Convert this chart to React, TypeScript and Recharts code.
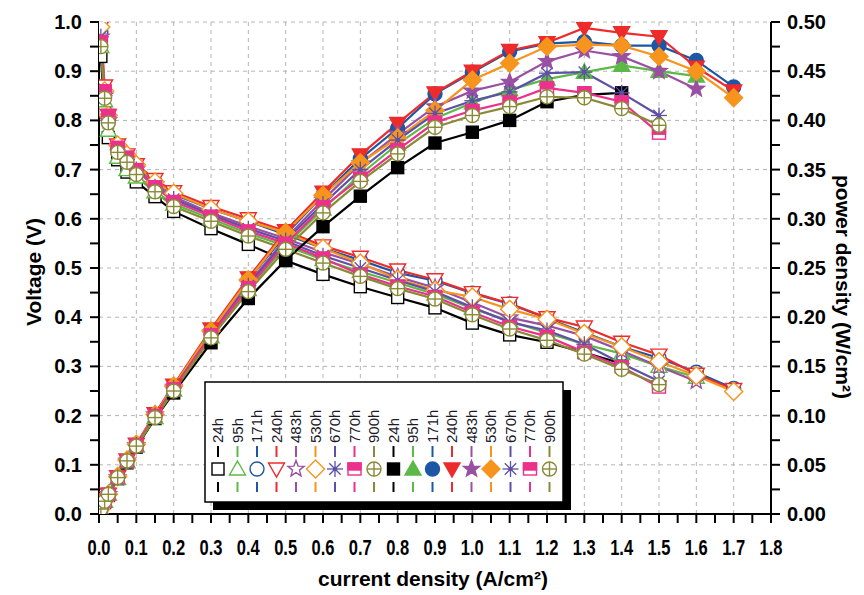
import React from "react";
import { ComposedChart, Line, XAxis, YAxis, CartesianGrid } from "recharts";

const FONT = "'Liberation Sans', Arial, sans-serif";

// current density (A/cm2) at which every point was measured
const currentDensity = [
  0.005, 0.015, 0.025, 0.05, 0.075, 0.1, 0.15, 0.2, 0.3, 0.4, 0.5, 0.6, 0.7,
  0.8, 0.9, 1.0, 1.1, 1.2, 1.3, 1.4, 1.5, 1.6, 1.7,
];

const hours = ["24h", "95h", "171h", "240h", "483h", "530h", "670h", "770h", "900h"];
const colors = [
  "#000000",
  "#5cb947",
  "#1d56a5",
  "#ee2b2b",
  "#9a50a2",
  "#f7941d",
  "#5d50a6",
  "#ec318c",
  "#8a8a36",
];
const shapes = [
  "square",
  "triangle",
  "circle",
  "down",
  "star",
  "diamond",
  "asterisk",
  "halfsquare",
  "circleplus",
];

// cell voltage (V)
const voltage24h = [0.93, 0.82, 0.765, 0.72, 0.695, 0.675, 0.645, 0.615, 0.58, 0.548, 0.515, 0.487, 0.462, 0.44, 0.419, 0.388, 0.364, 0.349, 0.328, 0.306];
const voltage95h = [0.95, 0.84, 0.78, 0.725, 0.7, 0.685, 0.655, 0.63, 0.6, 0.57, 0.545, 0.517, 0.493, 0.47, 0.447, 0.418, 0.392, 0.368, 0.345, 0.326, 0.3, 0.278];
const voltage171h = [0.98, 0.86, 0.805, 0.745, 0.725, 0.705, 0.675, 0.65, 0.62, 0.595, 0.568, 0.54, 0.516, 0.49, 0.474, 0.449, 0.427, 0.398, 0.369, 0.34, 0.317, 0.288, 0.255];
const voltage240h = [0.99, 0.87, 0.81, 0.75, 0.73, 0.71, 0.68, 0.655, 0.625, 0.6, 0.575, 0.545, 0.522, 0.496, 0.476, 0.45, 0.428, 0.399, 0.38, 0.349, 0.323, 0.284, 0.253];
const voltage483h = [0.97, 0.85, 0.8, 0.745, 0.72, 0.7, 0.67, 0.645, 0.612, 0.585, 0.56, 0.532, 0.508, 0.482, 0.46, 0.43, 0.399, 0.383, 0.362, 0.332, 0.3, 0.27];
const voltage530h = [0.99, 0.86, 0.81, 0.75, 0.73, 0.71, 0.675, 0.652, 0.62, 0.595, 0.572, 0.54, 0.51, 0.477, 0.455, 0.441, 0.416, 0.396, 0.367, 0.34, 0.31, 0.281, 0.249];
const voltage670h = [0.97, 0.85, 0.8, 0.74, 0.72, 0.7, 0.665, 0.64, 0.608, 0.58, 0.555, 0.525, 0.5, 0.475, 0.452, 0.42, 0.39, 0.373, 0.345, 0.306, 0.27];
const voltage770h = [0.96, 0.86, 0.81, 0.745, 0.725, 0.7, 0.665, 0.635, 0.605, 0.575, 0.55, 0.52, 0.487, 0.463, 0.442, 0.41, 0.381, 0.361, 0.329, 0.299, 0.258];
const voltage900h = [0.95, 0.845, 0.795, 0.735, 0.715, 0.69, 0.655, 0.625, 0.595, 0.565, 0.538, 0.51, 0.483, 0.458, 0.437, 0.405, 0.376, 0.353, 0.325, 0.294, 0.263];

// power density (W/cm2)
const power24h = [0.005, 0.012, 0.019, 0.036, 0.052, 0.068, 0.097, 0.123, 0.174, 0.219, 0.258, 0.292, 0.323, 0.352, 0.377, 0.388, 0.4, 0.419, 0.426, 0.428];
const power95h = [0.005, 0.013, 0.02, 0.036, 0.053, 0.069, 0.098, 0.126, 0.18, 0.228, 0.273, 0.31, 0.345, 0.376, 0.402, 0.418, 0.431, 0.442, 0.449, 0.456, 0.45, 0.445];
const power171h = [0.005, 0.013, 0.02, 0.037, 0.054, 0.071, 0.101, 0.13, 0.186, 0.238, 0.284, 0.324, 0.361, 0.392, 0.427, 0.449, 0.47, 0.478, 0.48, 0.476, 0.476, 0.461, 0.434];
const power240h = [0.005, 0.013, 0.02, 0.038, 0.055, 0.071, 0.102, 0.131, 0.188, 0.24, 0.288, 0.327, 0.365, 0.397, 0.428, 0.45, 0.471, 0.479, 0.494, 0.489, 0.485, 0.454, 0.43];
const power483h = [0.005, 0.013, 0.02, 0.037, 0.054, 0.07, 0.101, 0.129, 0.184, 0.234, 0.28, 0.319, 0.356, 0.386, 0.414, 0.43, 0.439, 0.46, 0.471, 0.465, 0.45, 0.432];
const power530h = [0.005, 0.013, 0.02, 0.038, 0.055, 0.071, 0.101, 0.13, 0.186, 0.238, 0.286, 0.324, 0.357, 0.382, 0.41, 0.441, 0.458, 0.475, 0.477, 0.476, 0.465, 0.45, 0.423];
const power670h = [0.005, 0.013, 0.02, 0.037, 0.054, 0.07, 0.1, 0.128, 0.182, 0.232, 0.278, 0.315, 0.35, 0.38, 0.407, 0.42, 0.429, 0.448, 0.449, 0.428, 0.405];
const power770h = [0.005, 0.013, 0.02, 0.037, 0.054, 0.07, 0.1, 0.127, 0.182, 0.23, 0.275, 0.312, 0.341, 0.37, 0.398, 0.41, 0.419, 0.433, 0.428, 0.419, 0.387];
const power900h = [0.005, 0.013, 0.02, 0.037, 0.054, 0.069, 0.098, 0.125, 0.179, 0.226, 0.269, 0.306, 0.338, 0.366, 0.393, 0.405, 0.414, 0.424, 0.423, 0.412, 0.395];

const voltageSets = [voltage24h, voltage95h, voltage171h, voltage240h, voltage483h, voltage530h, voltage670h, voltage770h, voltage900h];
const powerSets = [power24h, power95h, power171h, power240h, power483h, power530h, power670h, power770h, power900h];

// ticks (major + minor) and grid positions
const xTicks = [0, 0.05, 0.1, 0.15, 0.2, 0.25, 0.3, 0.35, 0.4, 0.45, 0.5, 0.55, 0.6, 0.65, 0.7, 0.75, 0.8, 0.85, 0.9, 0.95, 1.0, 1.05, 1.1, 1.15, 1.2, 1.25, 1.3, 1.35, 1.4, 1.45, 1.5, 1.55, 1.6, 1.65, 1.7, 1.75, 1.8];
const vTicks = [0, 0.05, 0.1, 0.15, 0.2, 0.25, 0.3, 0.35, 0.4, 0.45, 0.5, 0.55, 0.6, 0.65, 0.7, 0.75, 0.8, 0.85, 0.9, 0.95, 1.0];
const pTicks = [0, 0.025, 0.05, 0.075, 0.1, 0.125, 0.15, 0.175, 0.2, 0.225, 0.25, 0.275, 0.3, 0.325, 0.35, 0.375, 0.4, 0.425, 0.45, 0.475, 0.5];
const gridX = [0.1, 0.2, 0.3, 0.4, 0.5, 0.6, 0.7, 0.8, 0.9, 1.0, 1.1, 1.2, 1.3, 1.4, 1.5, 1.6, 1.7];
const gridV = [0.1, 0.2, 0.3, 0.4, 0.5, 0.6, 0.7, 0.8, 0.9];

const isStep = (v: number, step: number) => Math.abs(v / step - Math.round(v / step)) < 1e-6;

function Marker({ cx, cy, shape, color, filled }: { cx: number; cy: number; shape: string; color: string; filled: boolean }) {
  const fill = filled ? color : "#ffffff";
  const sw = 1.4;
  switch (shape) {
    case "square":
      return <rect x={cx - 6} y={cy - 6} width={12} height={12} fill={fill} stroke={color} strokeWidth={sw} />;
    case "triangle":
      return <polygon points={`${cx},${cy - 8} ${cx + 8},${cy + 6} ${cx - 8},${cy + 6}`} fill={fill} stroke={color} strokeWidth={sw} />;
    case "circle":
      return <circle cx={cx} cy={cy} r={7} fill={fill} stroke={color} strokeWidth={sw} />;
    case "down":
      return <polygon points={`${cx - 8},${cy - 6} ${cx + 8},${cy - 6} ${cx},${cy + 8}`} fill={fill} stroke={color} strokeWidth={sw} />;
    case "star": {
      const pts: string[] = [];
      for (let k = 0; k < 10; k++) {
        const r = k % 2 === 0 ? 8.5 : 3.6;
        const a = -Math.PI / 2 + (k * Math.PI) / 5;
        pts.push(`${cx + r * Math.cos(a)},${cy + r * Math.sin(a)}`);
      }
      return <polygon points={pts.join(" ")} fill={fill} stroke={color} strokeWidth={sw} />;
    }
    case "diamond":
      return <polygon points={`${cx},${cy - 9} ${cx + 9},${cy} ${cx},${cy + 9} ${cx - 9},${cy}`} fill={fill} stroke={color} strokeWidth={sw} />;
    case "asterisk":
      return (
        <g stroke={color} strokeWidth={1.3}>
          <line x1={cx - 8} y1={cy} x2={cx + 8} y2={cy} />
          <line x1={cx} y1={cy - 8} x2={cx} y2={cy + 8} />
          <line x1={cx - 5.7} y1={cy - 5.7} x2={cx + 5.7} y2={cy + 5.7} />
          <line x1={cx - 5.7} y1={cy + 5.7} x2={cx + 5.7} y2={cy - 5.7} />
          <circle cx={cx} cy={cy} r={1.6} fill={color} />
        </g>
      );
    case "halfsquare":
      return (
        <g>
          <rect x={cx - 6.5} y={cy - 6} width={13} height={12} fill="#ffffff" stroke={color} strokeWidth={sw} />
          <rect x={cx - 6.5} y={cy - 6} width={13} height={7} fill={color} stroke={color} strokeWidth={sw} />
        </g>
      );
    case "circleplus":
      return (
        <g stroke={color} strokeWidth={sw}>
          <circle cx={cx} cy={cy} r={7} fill="#ffffff" />
          <line x1={cx - 7} y1={cy} x2={cx + 7} y2={cy} />
          <line x1={cx} y1={cy - 7} x2={cx} y2={cy + 7} />
        </g>
      );
    default:
      return null;
  }
}

const makeDot = (shape: string, color: string, filled: boolean) => (props: any) => {
  const { cx, cy, index } = props;
  if (cx == null || cy == null) return <g key={index} />;
  return (
    <g key={index}>
      <Marker cx={cx} cy={cy} shape={shape} color={color} filled={filled} />
    </g>
  );
};

const EmptyTick = () => <g />;

const BottomTick = ({ x, y, payload }: any) => {
  const v = payload.value as number;
  if (!isStep(v, 0.1)) return <g />;
  return (
    <text
      x={x}
      y={y + 30}
      textAnchor="middle"
      fontFamily={FONT}
      fontWeight="bold"
      fontSize={22}
      fill="#000"
      transform={`translate(${x} 0) scale(0.75 1) translate(${-x} 0)`}
    >
      {v.toFixed(1)}
    </text>
  );
};

const LeftTick = ({ x, y, payload }: any) => {
  const v = payload.value as number;
  if (!isStep(v, 0.1)) return <g />;
  return (
    <text x={x} y={y + 7} textAnchor="end" fontFamily={FONT} fontWeight="bold" fontSize={20} fill="#000">
      {v.toFixed(1)}
    </text>
  );
};

const RightTick = ({ x, y, payload }: any) => {
  const v = payload.value as number;
  if (!isStep(v, 0.05)) return <g />;
  return (
    <text x={x} y={y + 7} textAnchor="start" fontFamily={FONT} fontWeight="bold" fontSize={20} fill="#000">
      {v.toFixed(2)}
    </text>
  );
};

const axisStroke = { stroke: "#000", strokeWidth: 2 };

function LegendBox() {
  const left = 205;
  const top = 382;
  const w = 358;
  const h = 120;
  const entries = [
    ...hours.map((hr, i) => ({ hr, i, filled: false })),
    ...hours.map((hr, i) => ({ hr, i, filled: true })),
  ];
  return (
    <g>
      <rect x={left + 8} y={top + 8} width={w} height={h} fill="#000" />
      <rect x={left} y={top} width={w} height={h} fill="#fff" stroke="#000" strokeWidth={1.5} />
      {entries.map((e, k) => {
        const cx = 218 + k * 19.5;
        return (
          <g key={k}>
            <text
              x={cx + 5}
              y={443}
              transform={`rotate(-90 ${cx + 5} 443)`}
              fontFamily={FONT}
              fontSize={15}
              fill="#1a1a2a"
            >
              {e.hr}
            </text>
            <line x1={cx} y1={446} x2={cx} y2={457} stroke={colors[e.i]} strokeWidth={2} />
            <line x1={cx} y1={482} x2={cx} y2={492} stroke={colors[e.i]} strokeWidth={2} />
            <Marker cx={cx} cy={469} shape={shapes[e.i]} color={colors[e.i]} filled={e.filled} />
          </g>
        );
      })}
    </g>
  );
}

export default function App() {
  const voltageData = voltageSets.map((vals) => vals.map((v, i) => ({ x: currentDensity[i], v })));
  const powerData = powerSets.map((vals) => vals.map((p, i) => ({ x: currentDensity[i], p })));

  return (
    <div style={{ position: "absolute", left: 0, top: 0, width: 864, height: 595, background: "#fff", fontFamily: FONT }}>
      <ComposedChart width={864} height={595} margin={{ top: 22, right: 0, bottom: 0, left: 0 }}>
        <XAxis xAxisId="g" hide height={0} type="number" dataKey="x" domain={[0, 1.8]} ticks={gridX} allowDataOverflow />
        <YAxis yAxisId="g" hide width={0} type="number" domain={[0, 1]} ticks={gridV} allowDataOverflow />
        <CartesianGrid xAxisId="g" yAxisId="g" stroke="#b5b5b5" strokeDasharray="4 4" />
        <XAxis
          xAxisId="top"
          orientation="top"
          type="number"
          dataKey="x"
          domain={[0, 1.8]}
          ticks={xTicks}
          mirror
          height={0}
          tick={EmptyTick}
          tickSize={9}
          axisLine={axisStroke}
          tickLine={axisStroke}
          allowDataOverflow
        />
        <XAxis
          xAxisId="x"
          type="number"
          dataKey="x"
          domain={[0, 1.8]}
          ticks={xTicks}
          height={81}
          tick={BottomTick}
          tickSize={9}
          axisLine={axisStroke}
          tickLine={axisStroke}
          interval={0}
          allowDataOverflow
        />
        <YAxis
          yAxisId="v"
          type="number"
          domain={[0, 1]}
          ticks={vTicks}
          width={99}
          tick={LeftTick}
          tickSize={9}
          tickMargin={8}
          axisLine={axisStroke}
          tickLine={axisStroke}
          interval={0}
          allowDataOverflow
        />
        <YAxis
          yAxisId="p"
          orientation="right"
          type="number"
          domain={[0, 0.5]}
          ticks={pTicks}
          width={93}
          tick={RightTick}
          tickSize={9}
          tickMargin={7}
          axisLine={axisStroke}
          tickLine={axisStroke}
          interval={0}
          allowDataOverflow
        />
        {voltageData.map((d, i) => (
          <Line
            key={`v-${hours[i]}`}
            xAxisId="x"
            yAxisId="v"
            data={d}
            dataKey="v"
            name={`${hours[i]} V`}
            type="linear"
            stroke={colors[i]}
            strokeWidth={2.2}
            dot={makeDot(shapes[i], colors[i], false)}
            activeDot={false}
            isAnimationActive={false}
          />
        ))}
        {powerData.map((d, i) => (
          <Line
            key={`p-${hours[i]}`}
            xAxisId="x"
            yAxisId="p"
            data={d}
            dataKey="p"
            name={`${hours[i]} P`}
            type="linear"
            stroke={colors[i]}
            strokeWidth={2.2}
            dot={makeDot(shapes[i], colors[i], true)}
            activeDot={false}
            isAnimationActive={false}
          />
        ))}
      </ComposedChart>
      <svg width={864} height={595} style={{ position: "absolute", left: 0, top: 0, pointerEvents: "none" }}>
        <LegendBox />
        <text
          x={33}
          y={272}
          transform="rotate(-90 33 272)"
          textAnchor="middle"
          dominantBaseline="central"
          fontFamily={FONT}
          fontWeight="bold"
          fontSize={21}
        >
          Voltage (V)
        </text>
        <text
          x={843}
          y={287}
          transform="rotate(90 843 287)"
          textAnchor="middle"
          dominantBaseline="central"
          fontFamily={FONT}
          fontWeight="bold"
          fontSize={21}
        >
          power density (W/cm²)
        </text>
        <text
          x={433}
          y={578}
          textAnchor="middle"
          dominantBaseline="central"
          fontFamily={FONT}
          fontWeight="bold"
          fontSize={21}
        >
          current density (A/cm²)
        </text>
      </svg>
    </div>
  );
}
